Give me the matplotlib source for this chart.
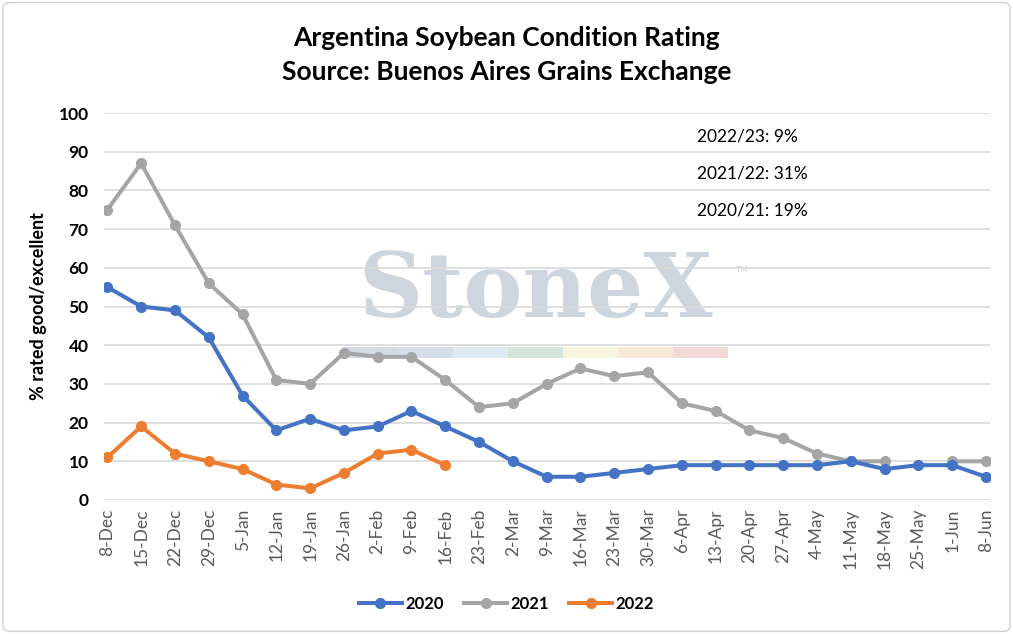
import numpy as np
import matplotlib
matplotlib.use("Agg")
import matplotlib.pyplot as plt
from matplotlib.patches import FancyBboxPatch, Rectangle

plt.rcParams['font.family'] = ['Lato', 'DejaVu Sans']

# data
weeks = ['8-Dec', '15-Dec', '22-Dec', '29-Dec', '5-Jan', '12-Jan', '19-Jan', '26-Jan',
         '2-Feb', '9-Feb', '16-Feb', '23-Feb', '2-Mar', '9-Mar', '16-Mar', '23-Mar',
         '30-Mar', '6-Apr', '13-Apr', '20-Apr', '27-Apr', '4-May', '11-May', '18-May',
         '25-May', '1-Jun', '8-Jun']
y2020 = [55, 50, 49, 42, 27, 18, 21, 18, 19, 23, 19, 15, 10, 6, 6, 7, 8, 9, 9, 9,
         9, 9, 10, 8, 9, 9, 6]
y2021 = [75, 87, 71, 56, 48, 31, 30, 38, 37, 37, 31, 24, 25, 30, 34, 32, 33, 25, 23, 18,
         16, 12, 10, 10, np.nan, 10, 10]
y2022 = [11, 19, 12, 10, 8, 4, 3, 7, 12, 13, 9]
notes = ['2022/23: 9%', '2021/22: 31%', '2020/21: 19%']

fig = plt.figure(figsize=(10.13, 6.34), dpi=100)
ax = fig.add_axes([104 / 1013, 1 - 500 / 634, (990 - 104) / 1013, (500 - 113) / 634])

# outer frame
fig.patches.append(FancyBboxPatch((0.003, 0.004), 0.994, 0.992, boxstyle='round,pad=0,rounding_size=0.008',
                                  transform=fig.transFigure, fill=False, edgecolor='#d0d0d0', lw=1))

x = np.arange(len(weeks))
ax.plot(x, y2020, color='#4472C4', lw=2.9, marker='o', ms=7, label='2020', zorder=4)
ax.plot(x, y2021, color='#A5A5A5', lw=2.9, marker='o', ms=7, label='2021', zorder=3)
ax.plot(x[:len(y2022)], y2022, color='#ED7D31', lw=2.9, marker='o', ms=7, label='2022', zorder=5)

ax.set_xlim(-0.1, len(weeks) - 0.88)
ax.set_ylim(0, 100)
ax.set_yticks(range(0, 101, 10))
ax.set_xticks(x)
ax.set_xticklabels(weeks, rotation=90, fontsize=12.5, color='#595959')
ax.tick_params(axis='y', labelsize=12.5, length=0, pad=11)
ax.tick_params(axis='x', length=0, pad=6)
for lab in ax.get_yticklabels():
    lab.set_fontweight('bold')
ax.grid(axis='y', color='#d9d9d9', lw=1.2, zorder=2)
for s in ax.spines.values():
    s.set_visible(False)
ax.set_ylabel('% rated good/excellent', fontsize=13, fontweight='bold', labelpad=8)

# watermark (sits under the gridlines)
ax.text((535 - 104) / 886, (500 - 293) / 387, 'StoneX', transform=ax.transAxes, ha='center',
        va='center', fontsize=64, family='DejaVu Serif', fontweight='bold', color='#cdd5de', zorder=1)
ax.text((742 - 104) / 886, (500 - 269) / 387, 'TM', transform=ax.transAxes, ha='center',
        va='center', fontsize=6, color='#cdd5de', zorder=1)
bar_cols = ['#d3dbe5', '#d5dfe9', '#deebf3', '#d5e5dc', '#f7f5dd', '#f9e9d7', '#f3d8d8']
seg = 55 / 886
for i, c in enumerate(bar_cols):
    ax.add_patch(Rectangle(((343 - 104) / 886 + i * seg, (500 - 358) / 387), seg, 11 / 387,
                           transform=ax.transAxes, facecolor=c, edgecolor='none', zorder=1))

for i, t in enumerate(notes):
    ax.text((697 - 104) / 886, (500 - 136 - i * 37.5) / 387, t, transform=ax.transAxes,
            fontsize=12.5, va='center')

fig.text(0.5, 1 - 38 / 634, 'Argentina Soybean Condition Rating', ha='center', va='center',
         fontsize=19, fontweight='bold')
fig.text(0.5, 1 - 72 / 634, 'Source: Buenos Aires Grains Exchange', ha='center', va='center',
         fontsize=19, fontweight='bold')

fig.legend(loc='center', bbox_to_anchor=(0.5, 0.048), ncol=3, frameon=False,
           prop={'weight': 'bold', 'size': 12}, handlelength=2.6,
           columnspacing=1.2, handletextpad=0.2)

fig.savefig('out.png', dpi=100)
